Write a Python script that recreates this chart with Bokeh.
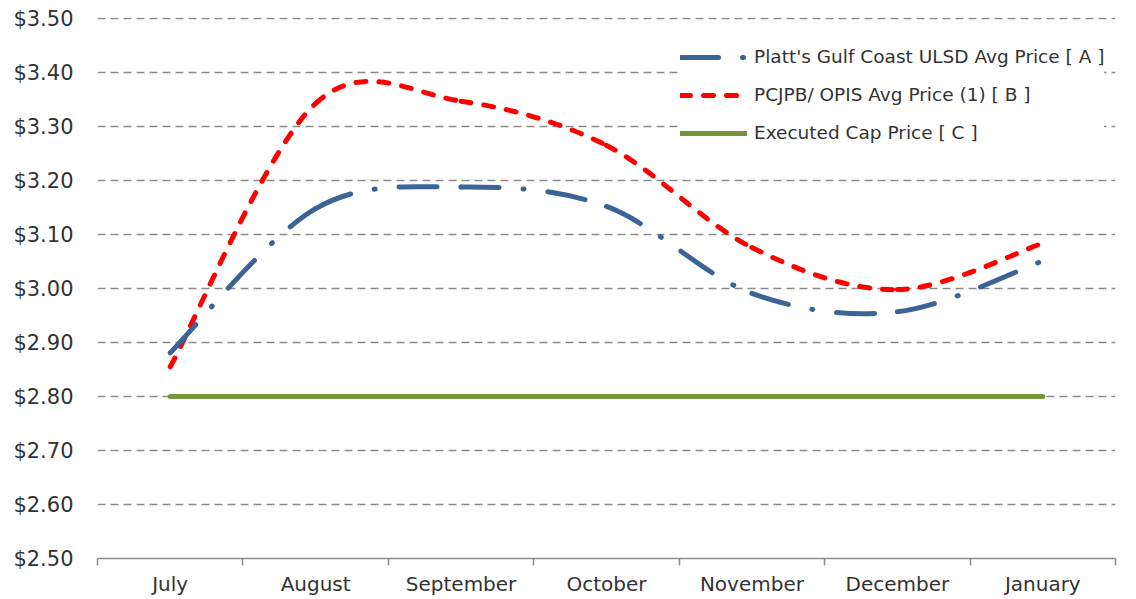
from bokeh.plotting import figure
from bokeh.models import Range1d, FixedTicker, NumeralTickFormatter, Legend, LegendItem, ColumnDataSource
from bokeh.embed import file_html
from bokeh.resources import INLINE

months = ["July", "August", "September", "October", "November", "December", "January"]
platts = [2.881, 3.148, 3.188, 3.152, 2.991, 2.957, 3.051]
pcjpb = [2.855, 3.343, 3.347, 3.265, 3.076, 2.998, 3.084]
cap = [2.80, 2.80, 2.80, 2.80, 2.80, 2.80, 2.80]
names = ["Platt's Gulf Coast ULSD Avg Price [ A ]",
         "PCJPB/ OPIS Avg Price (1) [ B ]",
         "Executed Cap Price [ C ]"]
y_ticks = [2.5, 2.6, 2.7, 2.8, 2.9, 3.0, 3.1, 3.2, 3.3, 3.4, 3.5]

xpos = list(range(len(months)))


def smooth_source(xs, ys):
    # Bezier segments through the data points (Catmull-Rom style tangents)
    n = len(xs)
    d = dict(x0=[], y0=[], x1=[], y1=[], cx0=[], cy0=[], cx1=[], cy1=[])
    for i in range(n - 1):
        im = max(i - 1, 0)
        ip2 = min(i + 2, n - 1)
        d["x0"].append(xs[i]); d["y0"].append(ys[i])
        d["x1"].append(xs[i + 1]); d["y1"].append(ys[i + 1])
        d["cx0"].append(xs[i] + (xs[i + 1] - xs[im]) / 6)
        d["cy0"].append(ys[i] + (ys[i + 1] - ys[im]) / 6)
        d["cx1"].append(xs[i + 1] - (xs[ip2] - xs[i]) / 6)
        d["cy1"].append(ys[i + 1] - (ys[ip2] - ys[i]) / 6)
    return ColumnDataSource(d)


p = figure(width=1130, height=598, x_range=Range1d(-0.5, 6.5), y_range=Range1d(2.5, 3.502),
           output_backend="svg", toolbar_location=None,
           min_border_left=97, min_border_right=15, min_border_top=17, min_border_bottom=40)
p.outline_line_color = None
p.background_fill_color = "white"

FONT = "DejaVu Sans"
TXT = "#333333"

# x axis
p.xaxis.ticker = FixedTicker(ticks=xpos, minor_ticks=[i - 0.5 for i in range(len(months) + 1)])
p.xaxis.major_label_overrides = {i: m for i, m in enumerate(months)}
p.xaxis.major_tick_out = 0
p.xaxis.major_tick_in = 0
p.xaxis.minor_tick_out = 7
p.xaxis.minor_tick_in = 0
p.xaxis.axis_line_color = "#8c8c8c"
p.xaxis.axis_line_width = 1.5
p.xaxis.minor_tick_line_color = "#8c8c8c"
p.xaxis.minor_tick_line_width = 1.5
p.xaxis.major_label_standoff = 6
p.xaxis.major_label_text_font = FONT
p.xaxis.major_label_text_font_size = "20px"
p.xaxis.major_label_text_color = TXT

# y axis
p.yaxis.ticker = FixedTicker(ticks=y_ticks)
p.yaxis.formatter = NumeralTickFormatter(format="$0.00")
p.yaxis.axis_line_color = None
p.yaxis.major_tick_line_color = None
p.yaxis.minor_tick_line_color = None
p.yaxis.major_label_standoff = 18
p.yaxis.major_label_text_font = FONT
p.yaxis.major_label_text_font_size = "21px"
p.yaxis.major_label_text_color = TXT

p.xgrid.visible = False
p.ygrid.ticker = FixedTicker(ticks=y_ticks)
p.ygrid.grid_line_color = "#8c8c8c"
p.ygrid.grid_line_width = 1.5
p.ygrid.grid_line_dash = "8 5"

# series
r_cap = p.line(xpos, cap, line_color="#77933C", line_width=5, line_cap="round")
r_b = p.bezier(x0="x0", y0="y0", x1="x1", y1="y1", cx0="cx0", cy0="cy0", cx1="cx1", cy1="cy1",
               source=smooth_source(xpos, pcjpb), line_color="#FF0000", line_width=5,
               line_dash="10 13", line_cap="round")
r_a = p.bezier(x0="x0", y0="y0", x1="x1", y1="y1", cx0="cx0", cy0="cy0", cx1="cx1", cy1="cy1",
               source=smooth_source(xpos, platts), line_color="#3A6496", line_width=5,
               line_dash="38 24 1 24", line_cap="round")

legend = Legend(items=[LegendItem(label=names[0], renderers=[r_a]),
                       LegendItem(label=names[1], renderers=[r_b]),
                       LegendItem(label=names[2], renderers=[r_cap])],
                location=(583, 415), border_line_color=None, background_fill_color="white",
                background_fill_alpha=1.0, glyph_width=67, glyph_height=20, label_height=20,
                spacing=17, padding=10, label_standoff=7, margin=0,
                label_text_font=FONT, label_text_font_size="18.5px", label_text_color=TXT)
p.add_layout(legend)

open("out.html", "w").write(file_html(p, INLINE))
